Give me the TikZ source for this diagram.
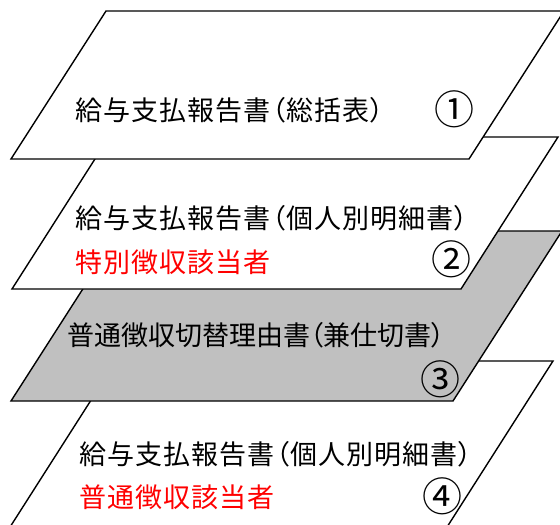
\documentclass[tikz,border=0pt]{standalone}
\usepackage{fontspec}
\newfontfamily\jpfont[LetterSpace=4,RawFeature=+palt]{Noto Sans CJK JP}
\newfontfamily\jpfonttight[LetterSpace=0,RawFeature=+palt]{Noto Sans CJK JP}
\newfontfamily\circfont{Noto Sans CJK JP}
\definecolor{sheetgray}{RGB}{192,192,192}
\definecolor{redtext}{RGB}{255,0,0}
\begin{document}
\begin{tikzpicture}[x=1pt,y=-1pt,
  sheet/.style={draw=black,line width=1.4pt,line join=miter,fill=white},
  label/.style={anchor=west,inner sep=0pt,font=\jpfont\fontsize{27pt}{30pt}\selectfont,text=black},
  tightlabel/.style={label,font=\jpfonttight\fontsize{27pt}{30pt}\selectfont},
  redlabel/.style={label,text=redtext},
  num/.style={anchor=center,inner sep=0pt,font=\circfont\fontsize{40pt}{42pt}\selectfont,text=black}]
\useasboundingbox (0,0) rectangle (560,525);
\fill[white] (0,0) rectangle (560,525);
\clip (0,0) rectangle (560,525);
% sheet 4 (bottom)
\filldraw[sheet] (116,361) -- (553,361) -- (426,560) -- (-11,560) -- cycle;
% sheet 3 (gray)
\filldraw[sheet,fill=sheetgray] (120,231) -- (562,231) -- (453,401) -- (11,401) -- cycle;
% sheet 2
\filldraw[sheet] (109,137) -- (558,137) -- (461,289) -- (12,289) -- cycle;
% sheet 1 (top)
\filldraw[sheet] (106,11) -- (564,11) -- (469,159) -- (11,159) -- cycle;
% texts
\node[label] (t1) at (75,110) {給与支払報告書（総括表）};
\node[num] (n1) at (454,109) {①};
\node[label] (t2a) at (75,218) {給与支払報告書（個人別明細書）};
\node[redlabel] (t2b) at (75,262) {特別徴収該当者};
\node[num] (n2) at (451,259) {②};
\node[tightlabel] (t3) at (67,335) {普通徴収切替理由書（兼仕切書）};
\node[num] (n3) at (440,379) {③};
\node[label] (t4a) at (79,454) {給与支払報告書（個人別明細書）};
\node[redlabel] (t4b) at (79,497) {普通徴収該当者};
\node[num] (n4) at (442,496) {④};
\end{tikzpicture}
\end{document}
